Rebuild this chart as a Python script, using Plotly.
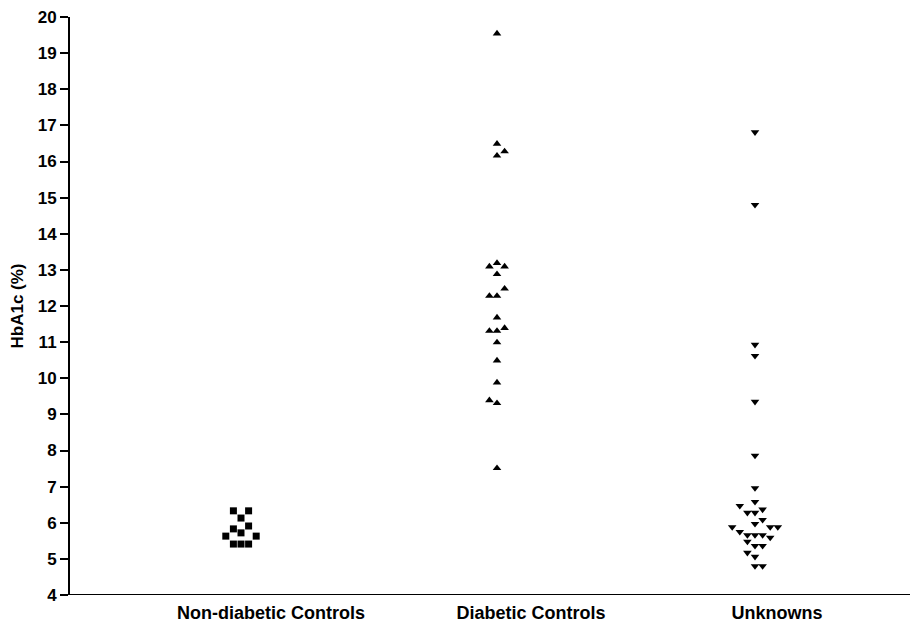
import plotly.graph_objects as go

# ---- data ----
groups = ["Non-diabetic Controls", "Diabetic Controls", "Unknowns"]

nondiabetic_hba1c = [6.33, 6.33, 6.13, 5.91, 5.83, 5.72, 5.63, 5.63, 5.41, 5.41, 5.41]
nondiabetic_col = [-1, 1, 0, 1, -1, 0, -2, 2, -1, 0, 1]

diabetic_hba1c = [19.54, 16.49, 16.28, 16.16, 13.19, 13.09, 13.09, 12.88, 12.48, 12.28,
                  12.28, 11.68, 11.39, 11.31, 11.31, 10.99, 10.49, 9.88, 9.39, 9.31, 7.51]
diabetic_col = [0, 0, 1, 0, 0, -1, 1, 0, 1, -1, 0, 0, 1, -1, 0, 0, 0, 0, -1, 0, 0]

unknown_hba1c = [16.81, 14.80, 10.93, 10.62, 9.35, 7.86, 6.96, 6.58, 6.47, 6.37, 6.28, 6.28,
                 6.08, 5.97, 5.88, 5.88, 5.88, 5.75, 5.66, 5.66, 5.66, 5.59, 5.48, 5.36,
                 5.36, 5.17, 5.06, 4.80, 4.80]
unknown_col = [0, 0, 0, 0, 0, 0, 0, 0, -2, 1, -1, 0, 1, 0, -3, 2, 3, -2, -1, 0, 1, 2, -1, 0,
               1, -1, 0, 0, 1]

y_ticks = list(range(4, 21))

# ---- layout constants ----
group_center = [171, 427, 685]     # x-axis units
label_center = [201, 461, 707]
col_step = 7.6
symbols = ["square", "triangle-up", "triangle-down"]
sizes = [7, 7.5, 7.5]

series = [(nondiabetic_hba1c, nondiabetic_col),
          (diabetic_hba1c, diabetic_col),
          (unknown_hba1c, unknown_col)]

fig = go.Figure()
for i, (vals, cols) in enumerate(series):
    xs = [group_center[i] + c * col_step for c in cols]
    fig.add_trace(go.Scatter(
        x=xs, y=vals, mode="markers", name=groups[i],
        marker=dict(symbol=symbols[i], size=sizes[i], color="black", line=dict(width=0)),
        showlegend=False,
    ))

font_family = "Liberation Sans, Arial, sans-serif"
# page body has an 8px default margin, so the figure is sized to fit the window
fig.update_layout(
    width=910, height=617,
    margin=dict(l=62, r=3, t=9, b=30),
    paper_bgcolor="white", plot_bgcolor="white",
    font=dict(family=font_family, color="black"),
    xaxis=dict(
        range=[0, 845], showgrid=False, zeroline=False, automargin=False,
        showline=False,
        tickmode="array", tickvals=label_center, ticktext=groups,
        ticks="", ticklabelstandoff=5, ticklabeloverflow="allow",
        tickfont=dict(size=18, weight="bold"),
    ),
    yaxis=dict(
        range=[4, 20], showgrid=False, zeroline=False, automargin=False,
        showline=True, linecolor="black", linewidth=2,
        tickmode="array", tickvals=y_ticks, ticktext=[str(v) for v in y_ticks],
        ticks="outside", ticklen=8, tickwidth=2, tickcolor="black",
        ticklabeloverflow="allow",
        tickfont=dict(size=17, weight="bold"),
        title=dict(text="HbA1c (%)", font=dict(size=17, weight="bold"), standoff=10),
    ),
    shapes=[dict(type="line", xref="paper", yref="y", x0=-0.009, x1=1.0, y0=4, y1=4,
                 line=dict(color="black", width=2))],
)

fig.write_html("out.html")
